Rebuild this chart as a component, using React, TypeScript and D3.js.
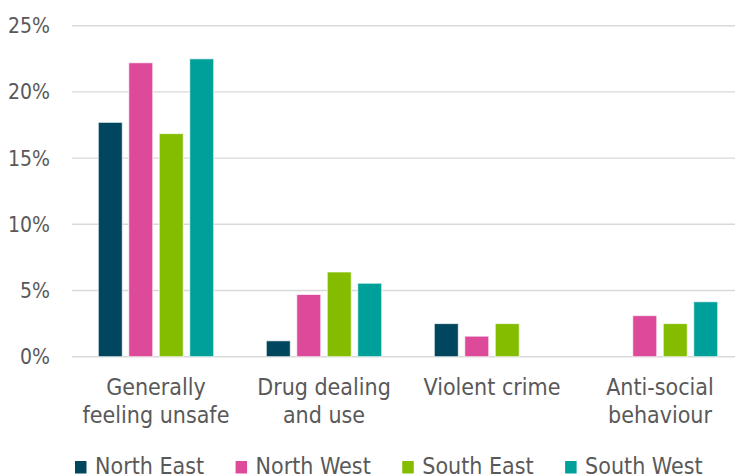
import React, { useEffect, useRef } from "react";
import * as d3 from "d3";

const categories = ["Generally\nfeeling unsafe", "Drug dealing\nand use", "Violent crime", "Anti-social\nbehaviour"];
const seriesNames = ["North East", "North West", "South East", "South West"];
const northEast: (number | null)[] = [17.7, 1.2, 2.5, null];
const northWest: (number | null)[] = [22.2, 4.7, 1.55, 3.1];
const southEast: (number | null)[] = [16.85, 6.4, 2.5, 2.5];
const southWest: (number | null)[] = [22.5, 5.55, null, 4.15];
const yTicks = [0, 5, 10, 15, 20, 25];
const colors = ["#00465E", "#DD4A9A", "#84BD00", "#00A09A"];

const W = 735;
const H = 475;
const FONT = "'DejaVu Sans Condensed', 'DejaVu Sans', sans-serif";
const TEXT = "#595959";

export default function App() {
  const ref = useRef<SVGSVGElement>(null);

  useEffect(() => {
    const svg = d3.select(ref.current);
    svg.selectAll("*").remove();
    const values = [northEast, northWest, southEast, southWest];

    const x0 = d3.scaleBand<string>().domain(categories).range([72, 744]).paddingInner(0.313).paddingOuter(0.1565);
    const x1 = d3.scaleBand<string>().domain(seriesNames).range([0, x0.bandwidth()]).paddingInner(0.213).paddingOuter(0);
    const y = d3.scaleLinear().domain([0, 25]).range([356.7, 25.7]);

    // gridlines
    svg.append("g").selectAll("line").data(yTicks).join("line")
      .attr("x1", 72).attr("x2", W)
      .attr("y1", (d) => y(d)).attr("y2", (d) => y(d))
      .attr("stroke", "#d9d9d9").attr("stroke-width", 1.4);

    // y tick labels
    svg.append("g").selectAll("text").data(yTicks).join("text")
      .attr("x", 50).attr("y", (d) => y(d))
      .attr("dy", "0.36em")
      .attr("text-anchor", "end")
      .attr("font-family", FONT).attr("font-size", 21).attr("fill", TEXT)
      .text((d) => `${d}%`);

    // bars
    seriesNames.forEach((s, si) => {
      const data = categories.map((c, ci) => ({ c, v: values[si][ci] })).filter((d) => d.v != null);
      svg.append("g").selectAll("rect").data(data).join("rect")
        .attr("x", (d) => (x0(d.c) as number) + (x1(s) as number))
        .attr("width", x1.bandwidth())
        .attr("y", (d) => y(d.v as number))
        .attr("height", (d) => y(0) - y(d.v as number))
        .attr("fill", colors[si])
        .attr("stroke", "#ffffff").attr("stroke-opacity", 0.7).attr("stroke-width", 1);
    });

    // category labels
    const cg = svg.append("g");
    categories.forEach((c) => {
      const cx = (x0(c) as number) + x0.bandwidth() / 2;
      const t = cg.append("text")
        .attr("x", cx).attr("y", 395)
        .attr("text-anchor", "middle")
        .attr("font-family", FONT).attr("font-size", 23).attr("fill", TEXT);
      c.split("\n").forEach((line, i) => {
        t.append("tspan").attr("x", cx).attr("dy", i === 0 ? 0 : 28).text(line);
      });
    });

    // legend
    const lg = svg.append("g");
    let lx = 75;
    seriesNames.forEach((s, si) => {
      lg.append("rect").attr("x", lx).attr("y", 461).attr("width", 11.5).attr("height", 12.5).attr("fill", colors[si]);
      const t = lg.append("text")
        .attr("x", lx + 20).attr("y", 473.5)
        .attr("font-family", FONT).attr("font-size", 23).attr("fill", TEXT)
        .text(s);
      const w = (t.node() as SVGTextElement).getComputedTextLength();
      lx = lx + 20 + w + 31.5;
    });
  }, []);

  return (
    <svg ref={ref} width={W} height={H} style={{ position: "absolute", left: 0, top: 0, background: "#fff" }} />
  );
}
